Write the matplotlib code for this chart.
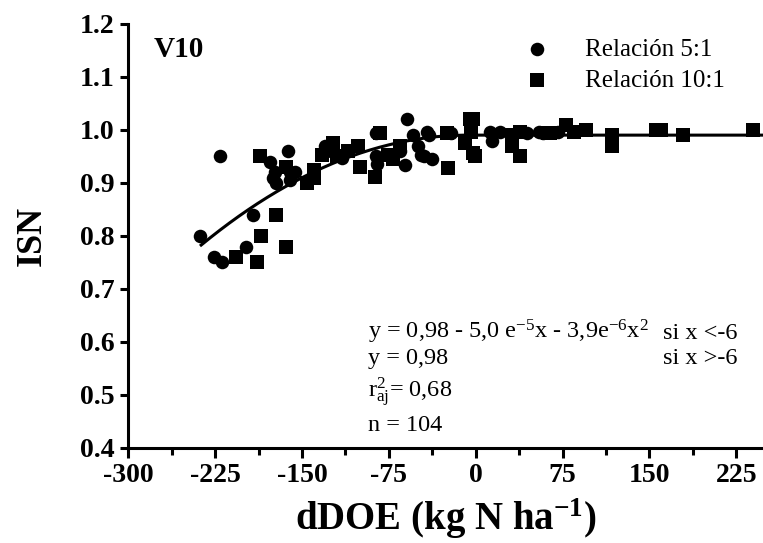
import numpy as np
import matplotlib
matplotlib.use('Agg')
import matplotlib.pyplot as plt

plt.rcParams['font.family'] = ['Liberation Serif', 'DejaVu Serif']
plt.rcParams['mathtext.fontset'] = 'custom'
plt.rcParams['mathtext.rm'] = 'Liberation Serif'
plt.rcParams['mathtext.it'] = 'Liberation Serif:italic'
plt.rcParams['mathtext.bf'] = 'Liberation Serif:bold'
plt.rcParams['axes.unicode_minus'] = False

# Relacion 5:1 (circles)
x_51 = [-238, -221, -226, -219, -198, -192, -178, -173, -172, -162, -160, -156,
        -160, -175, -130, -125, -115, -86, -85, -86, -61, -59, -54, -47, -45,
        -42, -38, -40, -21, 12, 14, 21, 44, 55, 58, 71, -50, -65]
y_51 = [0.80, 0.95, 0.76, 0.75, 0.78, 0.84, 0.94, 0.92, 0.90, 0.96, 0.92, 0.92,
        0.905, 0.91, 0.97, 0.96, 0.947, 0.95, 0.935, 0.994, 0.934, 1.02, 0.99, 0.953, 0.95,
        0.997, 0.946, 0.99, 0.994, 0.997, 0.98, 0.997, 0.994, 0.997, 0.994, 0.997, 0.97, 0.96]

# Relacion 10:1 (squares)
x_101 = [-207, -189, -186, -185, -172, -164, -164, -146, -140, -140, -133, -123,
         -102, -100, -87, -83, -76, -71, -65, -25, -24, -5, -2, -4, -9, -2, -1,
         31, 31, 38, 38, 62, 64, 78, 85, 95, 118, 118, 156, 160, 179, 239, -110, -120]
y_101 = [0.76, 0.75, 0.95, 0.80, 0.84, 0.78, 0.93, 0.90, 0.925, 0.91, 0.953, 0.975,
         0.969, 0.93, 0.912, 0.994, 0.953, 0.946, 0.969, 0.994, 0.928, 1.02, 1.02, 0.997, 0.975, 0.956, 0.95,
         0.99, 0.97, 0.997, 0.95, 0.994, 0.994, 1.01, 0.997, 1.0, 0.99, 0.97, 1.0, 1.0, 0.99, 1.0, 0.96, 0.95]

# fitted curve as drawn: y = a + b*x + c*x^2 for x < x_break, plateau otherwise
a, b, c = 0.99, -5.0e-5, -3.9e-6
x_break = -6
x_fit = np.linspace(-237, 248, 300)
y_fit = np.where(x_fit < x_break, a + b * x_fit + c * x_fit**2, a + b * x_break + c * x_break**2)

x_ticks = [-300, -225, -150, -75, 0, 75, 150, 225]
y_ticks = [0.4, 0.5, 0.6, 0.7, 0.8, 0.9, 1.0, 1.1, 1.2]

fig = plt.figure(figsize=(7.63, 5.43), dpi=100)
ax = fig.add_axes([0.168, 0.175, 0.832, 0.781])

ax.scatter(x_51, y_51, marker='o', s=95, color='black', linewidths=0, label='Relación 5:1', zorder=3)
ax.scatter(x_101, y_101, marker='s', s=95, color='black', linewidths=0, label='Relación 10:1', zorder=3)
ax.plot(x_fit, y_fit, color='black', lw=2.2, zorder=4)

ax.set_xlim(-300, 248)
ax.set_ylim(0.4, 1.2)
ax.set_xticks(x_ticks)
ax.set_xticks(np.arange(-262.5, 248, 75), minor=True)
ax.set_yticks(y_ticks)
ax.set_yticklabels([f'{v:.1f}' for v in y_ticks])

for s in ['top', 'right']:
    ax.spines[s].set_visible(False)
for s in ['left', 'bottom']:
    ax.spines[s].set_linewidth(2.2)

ax.tick_params(axis='both', which='major', width=2.2, length=6, labelsize=20, pad=4)
ax.tick_params(axis='x', which='major', length=7, pad=4)
ax.tick_params(axis='x', which='minor', width=2.2, length=5)
for lab in ax.get_xticklabels() + ax.get_yticklabels():
    lab.set_fontweight('bold')

ax.set_xlabel(r'dDOE (kg N ha$^{\mathbf{-1}}$)', fontsize=28, fontweight='bold', labelpad=6)
ax.set_ylabel('ISN', fontsize=26, fontweight='bold')
ax.yaxis.set_label_coords(-0.125, 0.50)

ax.text(-278, 1.152, 'V10', fontsize=21, fontweight='bold', va='center', ha='left')

leg = ax.legend(loc='upper left', bbox_to_anchor=(0.589, 0.99), frameon=False, fontsize=18,
                scatterpoints=1, handletextpad=0.9, labelspacing=0.35, borderaxespad=0)

fs = 17.5
ax.text(-93, 0.606, r'y = 0,98 - 5,0 e$^{-5}$x - 3,9e$^{-6}$x$^{2}$', fontsize=fs, va='baseline', ha='left')
ax.text(162, 0.606, 'si x <-6', fontsize=fs, va='baseline', ha='left')
ax.text(-93, 0.558, 'y = 0,98', fontsize=fs, va='baseline', ha='left')
ax.text(162, 0.558, 'si x >-6', fontsize=fs, va='baseline', ha='left')
ax.text(-93, 0.497, r'r$_{\mathrm{aj}}^{2}$= 0,68', fontsize=fs, va='baseline', ha='left')
ax.text(-93, 0.432, 'n = 104', fontsize=fs, va='baseline', ha='left')

fig.savefig('out.png', dpi=100)
